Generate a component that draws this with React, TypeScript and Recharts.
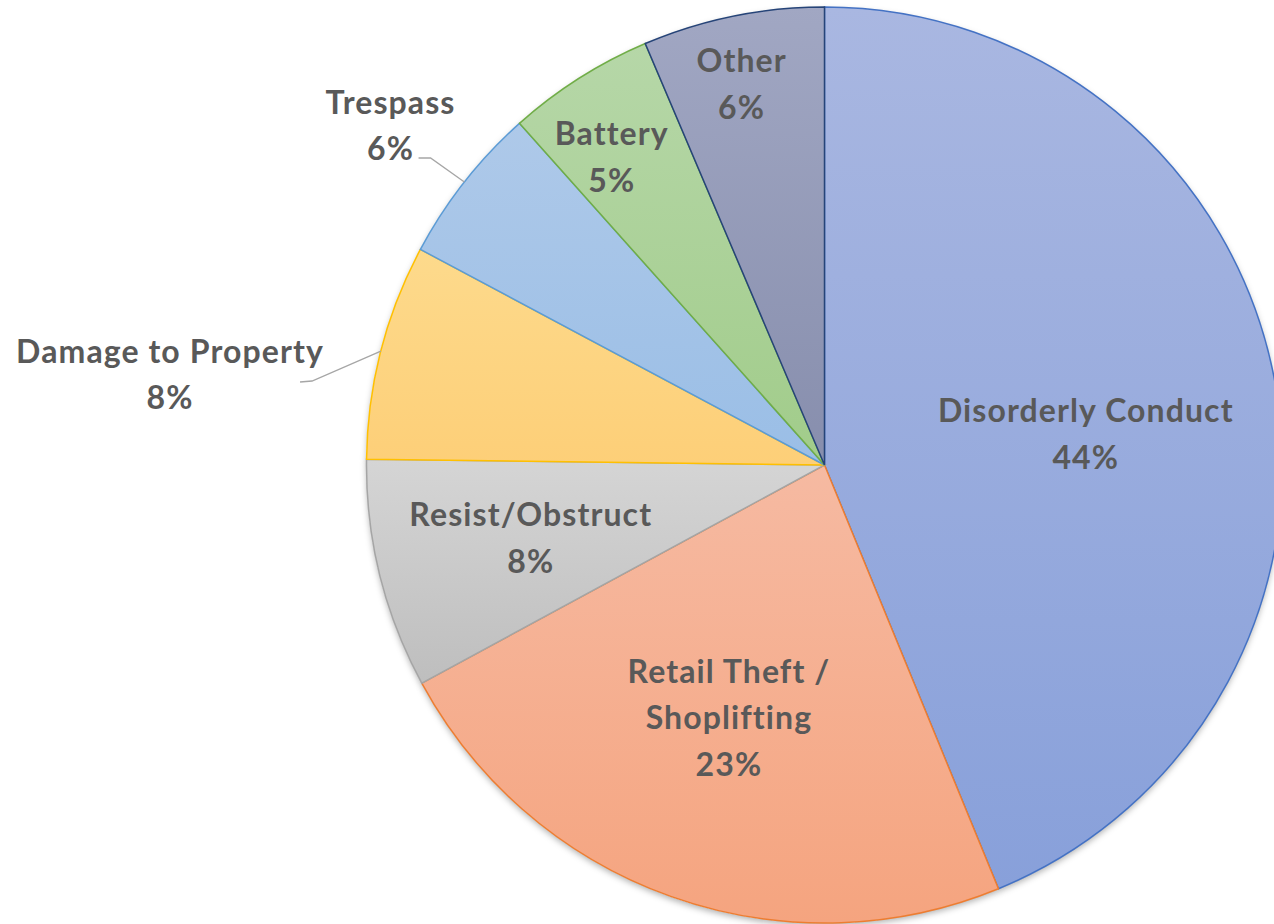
import { PieChart, Pie, Cell } from 'recharts';

const CATEGORIES = [
  'Disorderly Conduct',
  'Retail Theft / Shoplifting',
  'Resist/Obstruct',
  'Damage to Property',
  'Trespass',
  'Battery',
  'Other',
];
const SHARES = [43.8, 23.3, 8.1, 7.6, 5.6, 5.2, 6.4];

const FILL_TOP = ['#A9B7E1', '#F6BAA2', '#D5D5D5', '#FDDA8C', '#AEC9E9', '#B6D7A8', '#A1A7C3'];
const FILL_BOTTOM = ['#88A0DA', '#F5A47F', '#BEBEBE', '#FDCF78', '#9ABEE6', '#A1CC8A', '#878EAD'];
const BORDERS = ['#4472C4', '#ED7D31', '#A5A5A5', '#FFC000', '#5B9BD5', '#70AD47', '#264478'];

// label placement: radius as fraction of pie radius, angle shift in degrees
const LABEL_LAYOUT = [
  { r: 0.575, shift: -4 },
  { r: 0.587, shift: -1.2, wrap: true },
  { r: 0.66, shift: -0.2 },
  { r: 1.443, shift: 6.4, bend: [142, 8], end: [130, 9] },
  { r: 1.205, shift: 0, bend: [40, 34], end: [28, 34] },
  { r: 0.82, shift: 2.1 },
  { r: 0.855, shift: 0.7 },
];

const data = CATEGORIES.map((name, i) => ({ name, value: SHARES[i] }));

const RAD = Math.PI / 180;
const polar = (cx: number, cy: number, r: number, a: number) => ({
  x: cx + r * Math.cos(-a * RAD),
  y: cy + r * Math.sin(-a * RAD),
});

const LINE_H = 46.5;
const FONT = 32;

const renderLabel = (props: any) => {
  const { cx, cy, midAngle, outerRadius, percent, index } = props;
  const layout = LABEL_LAYOUT[index];
  const pos = polar(cx, cy, outerRadius * layout.r, midAngle + layout.shift);
  const name = CATEGORIES[index];
  const nameLines = layout.wrap ? name.replace(' / ', ' /|').split('|') : [name];
  const lines = [...nameLines, `${Math.round(percent * 100)}%`];
  const first = pos.y - ((lines.length - 1) * LINE_H) / 2;
  let leader = null;
  if (layout.bend && layout.end) {
    const edge = polar(cx, cy, outerRadius, midAngle);
    const b = { x: pos.x + layout.bend[0], y: pos.y + layout.bend[1] };
    const e = { x: pos.x + layout.end[0], y: pos.y + layout.end[1] };
    leader = (
      <polyline
        points={`${edge.x},${edge.y} ${b.x},${b.y} ${e.x},${e.y}`}
        fill="none"
        stroke="#A6A6A6"
        strokeWidth={1.3}
      />
    );
  }
  return (
    <g key={`lbl-${index}`}>
      {leader}
      {lines.map((t, i) => (
        <text
          key={i}
          x={pos.x}
          y={first + i * LINE_H + FONT * 0.41}
          textAnchor="middle"
          fill="#595959"
          fontFamily="Lato, 'Open Sans', sans-serif"
          fontWeight={700}
          fontSize={FONT}
          letterSpacing={1.1}
        >
          {t}
        </text>
      ))}
    </g>
  );
};

export default function App() {
  return (
    <div style={{ position: 'absolute', left: 0, top: 0, width: 1274, height: 924, background: '#fff' }}>
      <PieChart width={1274} height={924} margin={{ top: 0, right: 0, bottom: 0, left: 0 }}>
        <defs>
          {FILL_TOP.map((c, i) => (
            <linearGradient key={i} id={`slice-${i}`} x1="0" y1="0" x2="0" y2="1">
              <stop offset="0%" stopColor={c} />
              <stop offset="100%" stopColor={FILL_BOTTOM[i]} />
            </linearGradient>
          ))}
          <filter id="pie-shadow" x="-10%" y="-10%" width="120%" height="120%">
            <feDropShadow dx="0" dy="3" stdDeviation="3" floodColor="#000" floodOpacity="0.3" />
          </filter>
        </defs>
        <Pie
          data={data}
          dataKey="value"
          nameKey="name"
          cx={824.5}
          cy={465}
          outerRadius={458}
          startAngle={90}
          endAngle={-270}
          label={false}
          labelLine={false}
          isAnimationActive={false}
          style={{ filter: 'url(#pie-shadow)' }}
        >
          {data.map((_, i) => (
            <Cell key={i} fill="#ffffff" stroke="none" />
          ))}
        </Pie>
        <Pie
          data={data}
          dataKey="value"
          nameKey="name"
          cx={824.5}
          cy={465}
          outerRadius={458}
          startAngle={90}
          endAngle={-270}
          label={renderLabel}
          labelLine={false}
          isAnimationActive={false}
        >
          {data.map((_, i) => (
            <Cell key={i} fill={`url(#slice-${i})`} stroke={BORDERS[i]} strokeWidth={1.5} />
          ))}
        </Pie>
      </PieChart>
    </div>
  );
}
